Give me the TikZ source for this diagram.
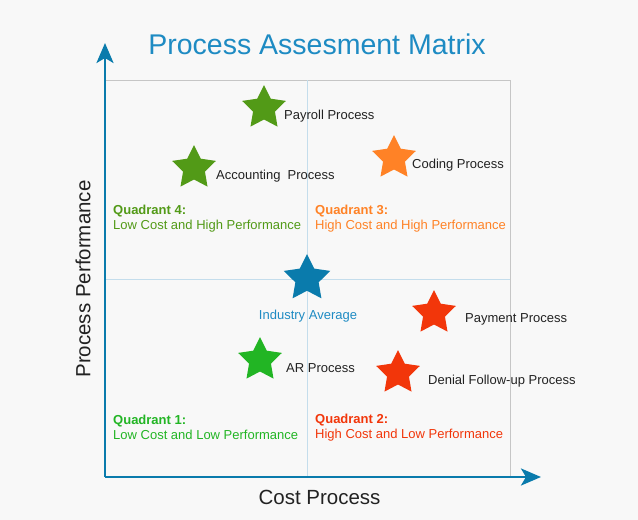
\documentclass[tikz,border=0pt]{standalone}
\usepackage{fontspec}
\setmainfont{Liberation Sans}
\usetikzlibrary{shapes.geometric,arrows.meta}
\definecolor{bgc}{HTML}{F8F8F8}
\definecolor{titlec}{HTML}{1E8BC3}
\definecolor{axisc}{HTML}{0A7BAC}
\definecolor{boxc}{HTML}{C6C6C6}
\definecolor{midc}{HTML}{C4DDEC}
\definecolor{dgreen}{HTML}{529A17}
\definecolor{bgreen}{HTML}{22B524}
\definecolor{orangec}{HTML}{FF8226}
\definecolor{redc}{HTML}{F2360A}
\definecolor{bluec}{HTML}{0A7BAC}
\definecolor{txtc}{HTML}{222222}
\tikzset{
  starnode/.style={star, star points=5, star point ratio=2.0, inner sep=0pt, minimum size=46pt, draw=none, fill=#1},
  lbl/.style={anchor=west, inner sep=0pt, text=txtc, font=\fontsize{13}{15}\selectfont},
  quad/.style={anchor=west, inner sep=0pt, align=left, text=#1, font=\fontsize{13}{15}\selectfont},
  axis/.style={draw=axisc, line width=2.8pt, -{Stealth[length=20pt,width=17pt,inset=5pt]}},
}
\begin{document}
\begin{tikzpicture}[x=1pt,y=-1pt]
\fill[bgc] (0,0) rectangle (638,520);
\useasboundingbox (0,0) rectangle (638,520);
% grid
\draw[boxc, line width=1pt] (105,80) rectangle (510,477);
\draw[midc, line width=1pt] (307,80) -- (307,477);
\draw[midc, line width=1pt] (105,279) -- (510,279);
% axes
\coordinate (origin) at (105,477);
\coordinate (ytip) at (105,43);
\coordinate (xtip) at (541,477);
\draw[axis] (origin) -- (ytip);
\draw[axis] (origin) -- (xtip);
% title and axis labels
\node[text=titlec, font=\fontsize{28.5}{32}\selectfont, inner sep=0pt] (title) at (317,44) {Process Assesment Matrix};
\node[text=txtc, font=\fontsize{20.5}{24}\selectfont, inner sep=0pt] (xlabel) at (319.5,497) {Cost Process};
\node[text=txtc, font=\fontsize{20.5}{24}\selectfont, inner sep=0pt, rotate=90] (ylabel) at (83,279) {Process Performance};
% stars
\node[starnode=dgreen] (payroll) at (264,108) {};
\node[starnode=dgreen] (accounting) at (194,168) {};
\node[starnode=orangec] (coding) at (394,158) {};
\node[starnode=bluec, minimum size=49pt] (industry) at (307,278.5) {};
\node[starnode=redc] (payment) at (434,313) {};
\node[starnode=bgreen] (ar) at (260,360) {};
\node[starnode=redc] (denial) at (398,373) {};
% star labels
\node[lbl] (payrollL) at (284,116) {Payroll Process};
\node[lbl] (accountingL) at (216,176) {Accounting\ \ Process};
\node[lbl] (codingL) at (412,165) {Coding Process};
\node[inner sep=0pt, text=titlec, font=\fontsize{13}{15}\selectfont] (industryL) at (308,316) {Industry Average};
\node[lbl] (paymentL) at (465,319) {Payment Process};
\node[lbl] (arL) at (286,368) {AR Process};
\node[lbl] (denialL) at (428,381) {Denial Follow-up Process};
% quadrant labels
\node[quad=dgreen] (q4) at (113,218.5) {\textbf{Quadrant 4:}\\Low Cost and High Performance};
\node[quad=orangec] (q3) at (315,218.5) {\textbf{Quadrant 3:}\\High Cost and High Performance};
\node[quad=bgreen] (q1) at (113,427.5) {\textbf{Quadrant 1:}\\Low Cost and Low Performance};
\node[quad=redc] (q2) at (315,427.5) {\textbf{Quadrant 2:}\\High Cost and Low Performance};
\end{tikzpicture}
\end{document}
